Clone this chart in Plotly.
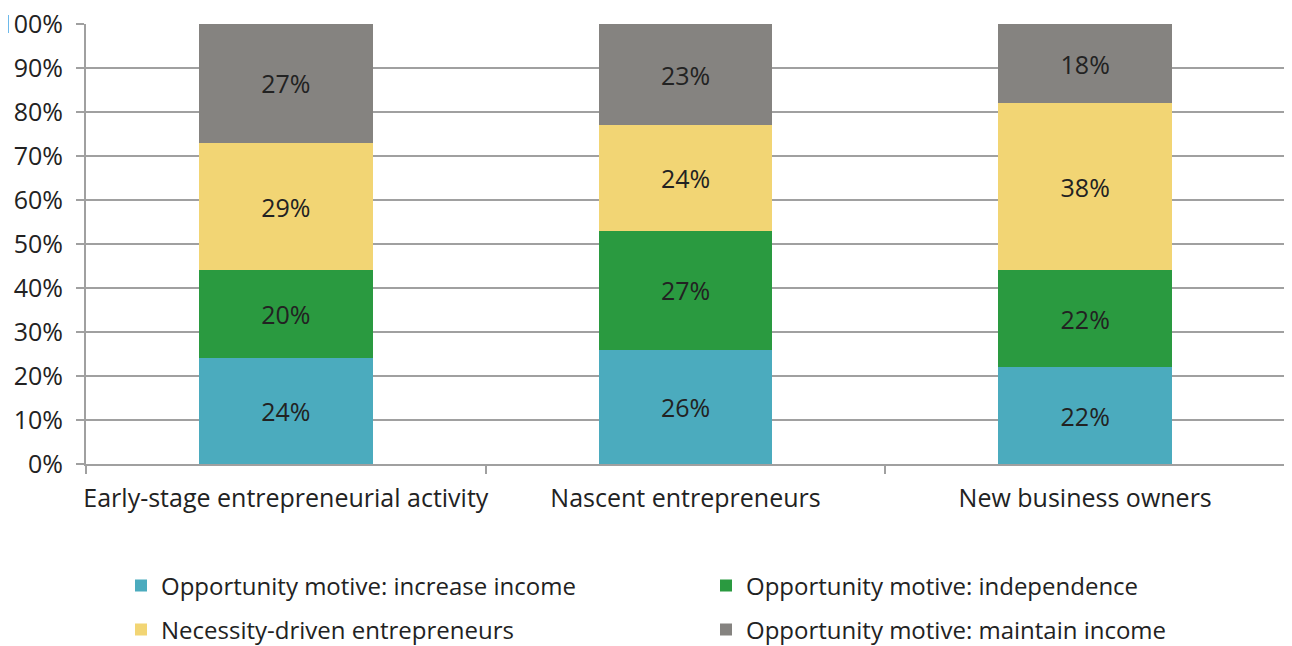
import plotly.graph_objects as go

categories = ["Early-stage entrepreneurial activity", "Nascent entrepreneurs", "New business owners"]
series_names = ["Opportunity motive: increase income", "Opportunity motive: independence",
                "Necessity-driven entrepreneurs", "Opportunity motive: maintain income"]
increase_income = [24, 26, 22]
independence = [20, 27, 22]
necessity = [29, 24, 38]
maintain_income = [27, 23, 18]
colors = ["#4BABBE", "#2A9A40", "#F2D574", "#858380"]
legend_groups = ["legend", "legend", "legend2", "legend2"]

y_tickvals = [0, 10, 20, 30, 40, 50, 60, 70, 80, 90, 100]
y_ticktext = ["0%", "10%", "20%", "30%", "40%", "50%", "60%", "70%", "80%", "90%", "100%"]

font_family = "Open Sans, Noto Sans, DejaVu Sans, sans-serif"
FS = 25

# page offset of 8px (body margin) is compensated in the sizes below
W, H = 1284, 638
L, T, R, B = 78, 16, 7, 182
PW, PH = W - L - R, H - T - B

fig = go.Figure()
for name, vals, col, lg in zip(series_names, [increase_income, independence, necessity, maintain_income], colors, legend_groups):
    fig.add_trace(go.Bar(
        x=categories, y=vals, name=name, marker=dict(color=col, line=dict(width=0)),
        text=[f"{v}%" for v in vals], textposition="inside", insidetextanchor="middle",
        textfont=dict(color="#222222", size=FS, family=font_family), hoverinfo="skip",
        legend=lg,
    ))

leg_common = dict(orientation="h", xanchor="left", yanchor="middle",
                  entrywidth=540, entrywidthmode="pixels", traceorder="normal",
                  font=dict(size=FS - 1, color="#222222", family=font_family), bgcolor="rgba(0,0,0,0)")

fig.update_layout(
    barmode="stack", bargap=0.565,
    width=W, height=H,
    margin=dict(l=L, r=R, t=T, b=B, autoexpand=False),
    paper_bgcolor="white", plot_bgcolor="white",
    font=dict(family=font_family, size=FS, color="#222222"),
    showlegend=True,
    legend=dict(x=(113 - L) / PW, y=(456 - 578) / PH, **leg_common),
    legend2=dict(x=(113 - L) / PW, y=(456 - 622) / PH, **leg_common),
)
fig.update_xaxes(
    showline=True, linecolor="#A0A0A0", linewidth=2,
    ticks="outside", tickson="boundaries", ticklen=8, tickcolor="#A0A0A0", tickwidth=2,
    tickfont=dict(size=FS, color="#222222"), showgrid=False, ticklabelstandoff=11,
    tickangle=0,
)
fig.update_yaxes(
    range=[0, 100], tickvals=y_tickvals, ticktext=y_ticktext,
    showline=True, linecolor="#A0A0A0", linewidth=2,
    ticks="outside", ticklen=8, tickcolor="#A0A0A0", tickwidth=2,
    showgrid=True, gridcolor="#A0A0A0", gridwidth=2,
    tickfont=dict(size=FS, color="#222222"), zeroline=False,
    ticklabelstandoff=8, ticklabeloverflow="allow",
)

fig.write_html("out.html")
